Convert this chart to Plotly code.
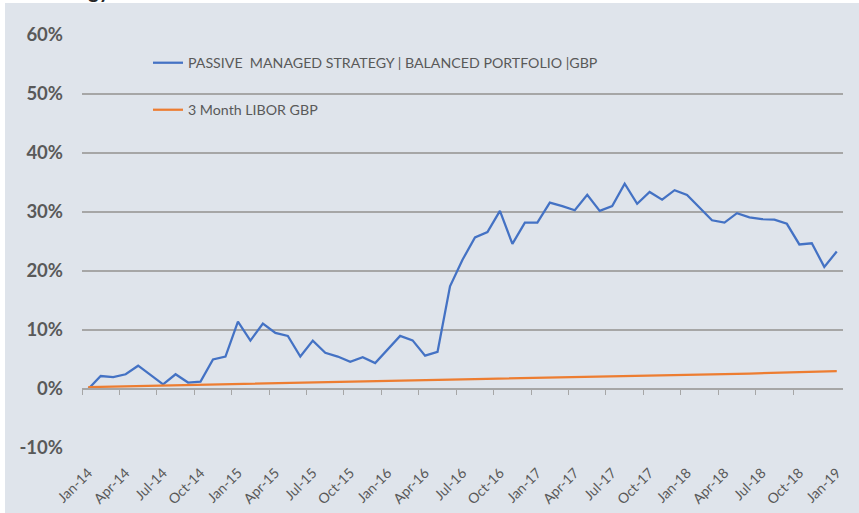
import plotly.graph_objects as go

# Month labels, Jan-14 .. Jan-19
years = ["14", "15", "16", "17", "18", "19"]
months = ["Jan", "Feb", "Mar", "Apr", "May", "Jun", "Jul", "Aug", "Sep", "Oct", "Nov", "Dec"]
dates = [f"{m}-{y}" for y in years for m in months][:61]

# Cumulative return, %
strategy = [
    0.0, 2.2, 2.0, 2.5, 3.95, 2.4, 0.8, 2.5, 1.1, 1.25, 5.0, 5.5,
    11.4, 8.2, 11.1, 9.5, 9.0, 5.5, 8.2, 6.15, 5.5, 4.6, 5.4, 4.4,
    6.7, 9.0, 8.25, 5.65, 6.3, 17.4, 21.9, 25.7, 26.6, 30.2, 24.6, 28.2,
    28.2, 31.6, 31.0, 30.3, 32.9, 30.2, 31.0, 34.8, 31.4, 33.4, 32.1, 33.7,
    32.9, 30.8, 28.6, 28.2, 29.8, 29.1, 28.8, 28.7, 28.0, 24.5, 24.7, 20.7,
    23.3,
]
libor = [
    0.30, 0.35, 0.39, 0.44, 0.48, 0.53, 0.57, 0.62, 0.66, 0.71, 0.75, 0.80,
    0.84, 0.89, 0.93, 0.98, 1.02, 1.07, 1.11, 1.16, 1.20, 1.25, 1.29, 1.34,
    1.38, 1.43, 1.47, 1.52, 1.56, 1.61, 1.65, 1.68, 1.72, 1.75, 1.78, 1.82,
    1.85, 1.88, 1.91, 1.95, 1.98, 2.01, 2.05, 2.08, 2.11, 2.15, 2.18, 2.24,
    2.30, 2.37, 2.43, 2.49, 2.55, 2.61, 2.68, 2.74, 2.80, 2.86, 2.92, 2.99,
    3.05,
]
y_ticks = [-10, 0, 10, 20, 30, 40, 50, 60]

label_step = 3
idx = list(range(len(dates)))
label_idx = idx[::label_step]
boundary_ticks = [i - 0.5 for i in label_idx[:-1]]

GRID = "#a6a6a6"
TEXT = "#595959"
BG = "#dfe4eb"
FONT = "Lato, 'Open Sans', sans-serif"

fig = go.Figure()
fig.add_trace(go.Scatter(
    x=idx, y=strategy, mode="lines",
    name="PASSIVE\u00a0 MANAGED STRATEGY | BALANCED PORTFOLIO |GBP",
    line=dict(color="#4472c4", width=2.25),
    legend="legend",
))
fig.add_trace(go.Scatter(
    x=idx, y=libor, mode="lines",
    name="3 Month LIBOR GBP",
    line=dict(color="#ed7d31", width=2.25),
    legend="legend2",
))
# invisible carrier for the boundary tick axis sitting on the 0% line
fig.add_trace(go.Scatter(
    x=idx, y=libor, mode="lines", xaxis="x2", showlegend=False,
    line=dict(width=0), hoverinfo="skip", opacity=0,
))

H, W = 513, 859
ML, MR, MT, MB = 82, 16, 35, 65
ph = H - MT - MB
pw = W - ML - MR
xr = [-0.5, len(dates) - 0.5]
yr = [-10, 60]

legend_font = dict(family=FONT, size=14.2, color=TEXT)
fig.update_layout(
    width=W, height=H,
    margin=dict(l=ML, r=MR, t=MT, b=MB, autoexpand=False),
    paper_bgcolor=BG, plot_bgcolor=BG,
    font=dict(family=FONT, color=TEXT),
    xaxis=dict(
        range=xr, tickmode="array", tickvals=label_idx,
        ticktext=[dates[i] for i in label_idx],
        tickangle=-45, showgrid=False, zeroline=False, showline=False,
        ticks="", tickfont=dict(family=FONT, size=14, color=TEXT),
        ticklabelstandoff=13, automargin=False,
    ),
    xaxis2=dict(
        range=xr, overlaying="x", anchor="free",
        position=(0 - yr[0]) / (yr[1] - yr[0]),
        tickmode="array", tickvals=boundary_ticks, showticklabels=False,
        ticks="outside", ticklen=5, tickwidth=1.25, tickcolor=GRID,
        showline=True, linecolor=GRID, linewidth=1.5,
        showgrid=False, zeroline=False, automargin=False,
    ),
    yaxis=dict(
        range=yr, tickmode="array", tickvals=y_ticks,
        ticktext=[f"{v}%" for v in y_ticks],
        showgrid=True, gridcolor=GRID, gridwidth=1.5,
        zeroline=False, showline=False, ticks="",
        tickfont=dict(family=FONT, size=18.5, color=TEXT, weight="bold"),
        ticklabelstandoff=18, automargin=False,
    ),
    legend=dict(
        x=(148 - ML) / pw, y=(H - MB - 47) / ph, xanchor="left", yanchor="top",
        bgcolor="rgba(0,0,0,0)", font=legend_font,
    ),
    legend2=dict(
        x=(148 - ML) / pw, y=(H - MB - 94) / ph, xanchor="left", yanchor="top",
        bgcolor="rgba(0,0,0,0)", font=legend_font,
    ),
    showlegend=True,
)

# white edge strips along top and left border
fig.add_shape(type="rect", xref="paper", yref="paper", layer="above",
              x0=-ML / pw - 0.01, x1=1 + MR / pw + 0.01,
              y0=1 + (MT - 3) / ph, y1=1 + (MT + 5) / ph,
              fillcolor="white", line=dict(width=0))
fig.add_shape(type="rect", xref="paper", yref="paper", layer="above",
              x0=-ML / pw - 0.01, x1=-(ML - 5) / pw,
              y0=-MB / ph - 0.01, y1=1 + (MT + 5) / ph,
              fillcolor="white", line=dict(width=0))

fig.add_annotation(
    text="<b>Strategy</b>", xref="paper", yref="paper",
    x=(112 - ML) / pw, y=1 + (MT - 4) / ph, xanchor="right", yanchor="bottom",
    showarrow=False, font=dict(family=FONT, size=20, color="#262626"),
)

fig.write_html("out.html")
